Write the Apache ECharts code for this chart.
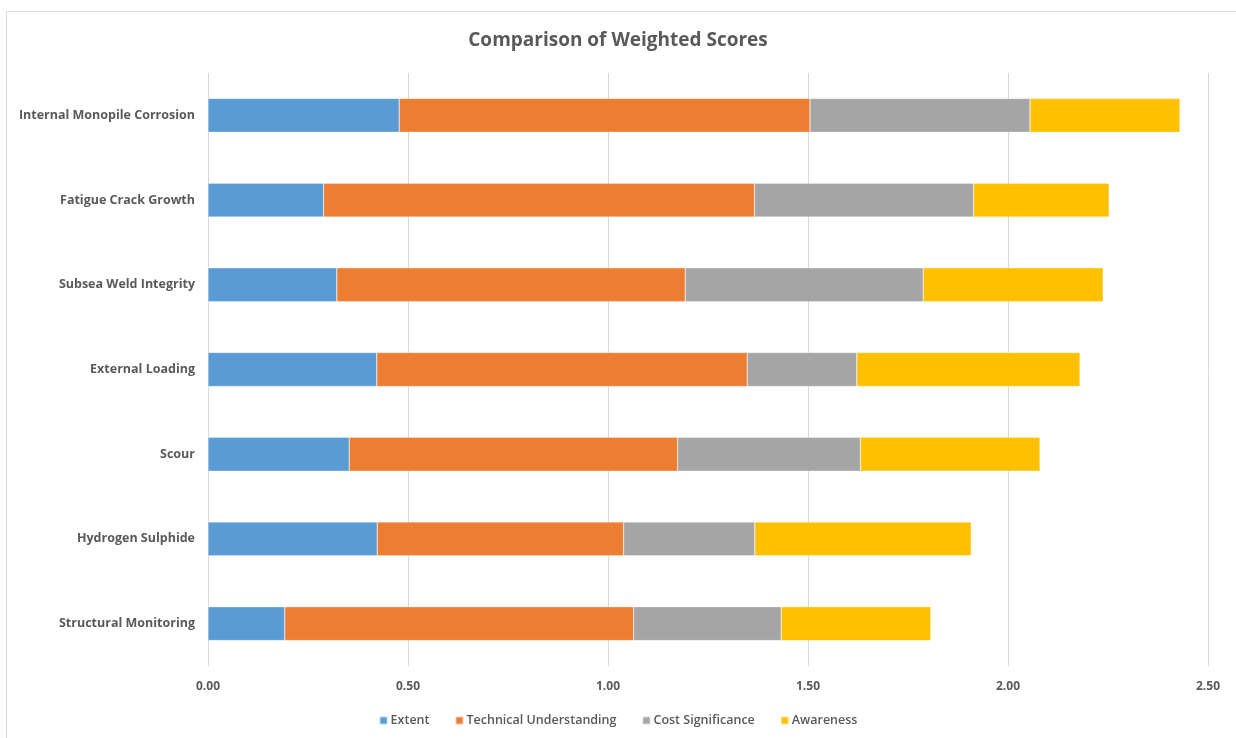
<!DOCTYPE html>
<html>
<head>
<meta charset="utf-8">
<script src="https://cdn.jsdelivr.net/npm/echarts@6/dist/echarts.min.js"></script>
<style>
  html, body { margin: 0; padding: 0; background: #fff; overflow: hidden; }
  #frame {
    position: absolute; left: 6px; top: 11px;
    width: 1300px; height: 800px;
    border: 1px solid #d9d9d9;
  }
  #chart { position: absolute; left: 0; top: 0; width: 1236px; height: 738px; }
</style>
</head>
<body>
<div id="frame"></div>
<div id="chart"></div>
<script>
// categories, top to bottom
const categories = [
  'Internal Monopile Corrosion',
  'Fatigue Crack Growth',
  'Subsea Weld Integrity',
  'External Loading',
  'Scour',
  'Hydrogen Sulphide',
  'Structural Monitoring'
]

const extent = [0.478, 0.289, 0.322, 0.422, 0.353, 0.423, 0.192]
const technical = [1.027, 1.077, 0.871, 0.926, 0.821, 0.616, 0.872]
const costSig = [0.550, 0.548, 0.595, 0.274, 0.457, 0.328, 0.369]
const awareness = [0.375, 0.339, 0.450, 0.558, 0.449, 0.541, 0.374]

const xTicks = [0, 0.5, 1.0, 1.5, 2.0, 2.5]

const fontFam = '"Open Sans", "Liberation Sans", sans-serif'
const txt = '#595959'

const chart = echarts.init(document.getElementById('chart'))

const mkSeries = (name, data, color) => ({
  name,
  type: 'bar',
  stack: 'total',
  data,
  barWidth: '40%',
  itemStyle: { color, borderColor: 'rgba(255,255,255,0.6)', borderWidth: 0.5 }
})

chart.setOption({
  animation: false,
  title: {
    text: 'Comparison of Weighted Scores',
    left: 'center',
    top: 26,
    textStyle: { color: txt, fontSize: 19, fontWeight: 'bold', fontFamily: fontFam }
  },
  legend: {
    bottom: 6,
    left: 'center',
    itemWidth: 8,
    itemHeight: 8,
    itemGap: 25,
    icon: 'rect',
    textStyle: { color: txt, fontSize: 12.5, fontWeight: 600, fontFamily: fontFam, padding: [0, 0, 0, -2] },
    data: ['Extent', 'Technical Understanding', 'Cost Significance', 'Awareness']
  },
  grid: { left: 208, right: 28, top: 73, bottom: 72 },
  xAxis: {
    type: 'value',
    min: 0,
    max: 2.5,
    interval: 0.5,
    axisLine: { show: false },
    axisTick: { show: false },
    splitLine: { show: true, lineStyle: { color: '#d9d9d9', width: 1 } },
    axisLabel: {
      color: txt,
      fontSize: 12,
      fontWeight: 'bold',
      fontFamily: fontFam,
      margin: 15,
      formatter: v => xTicks.includes(v) ? v.toFixed(2) : ''
    }
  },
  yAxis: {
    type: 'category',
    inverse: true,
    data: categories,
    axisLine: { show: false },
    axisTick: { show: false },
    axisLabel: { color: txt, fontSize: 12.5, fontWeight: 'bold', fontFamily: fontFam, margin: 13, padding: [4, 0, 0, 0] }
  },
  series: [
    mkSeries('Extent', extent, '#5b9bd5'),
    mkSeries('Technical Understanding', technical, '#ed7d31'),
    mkSeries('Cost Significance', costSig, '#a5a5a5'),
    mkSeries('Awareness', awareness, '#ffc000')
  ]
})
</script>
</body>
</html>
